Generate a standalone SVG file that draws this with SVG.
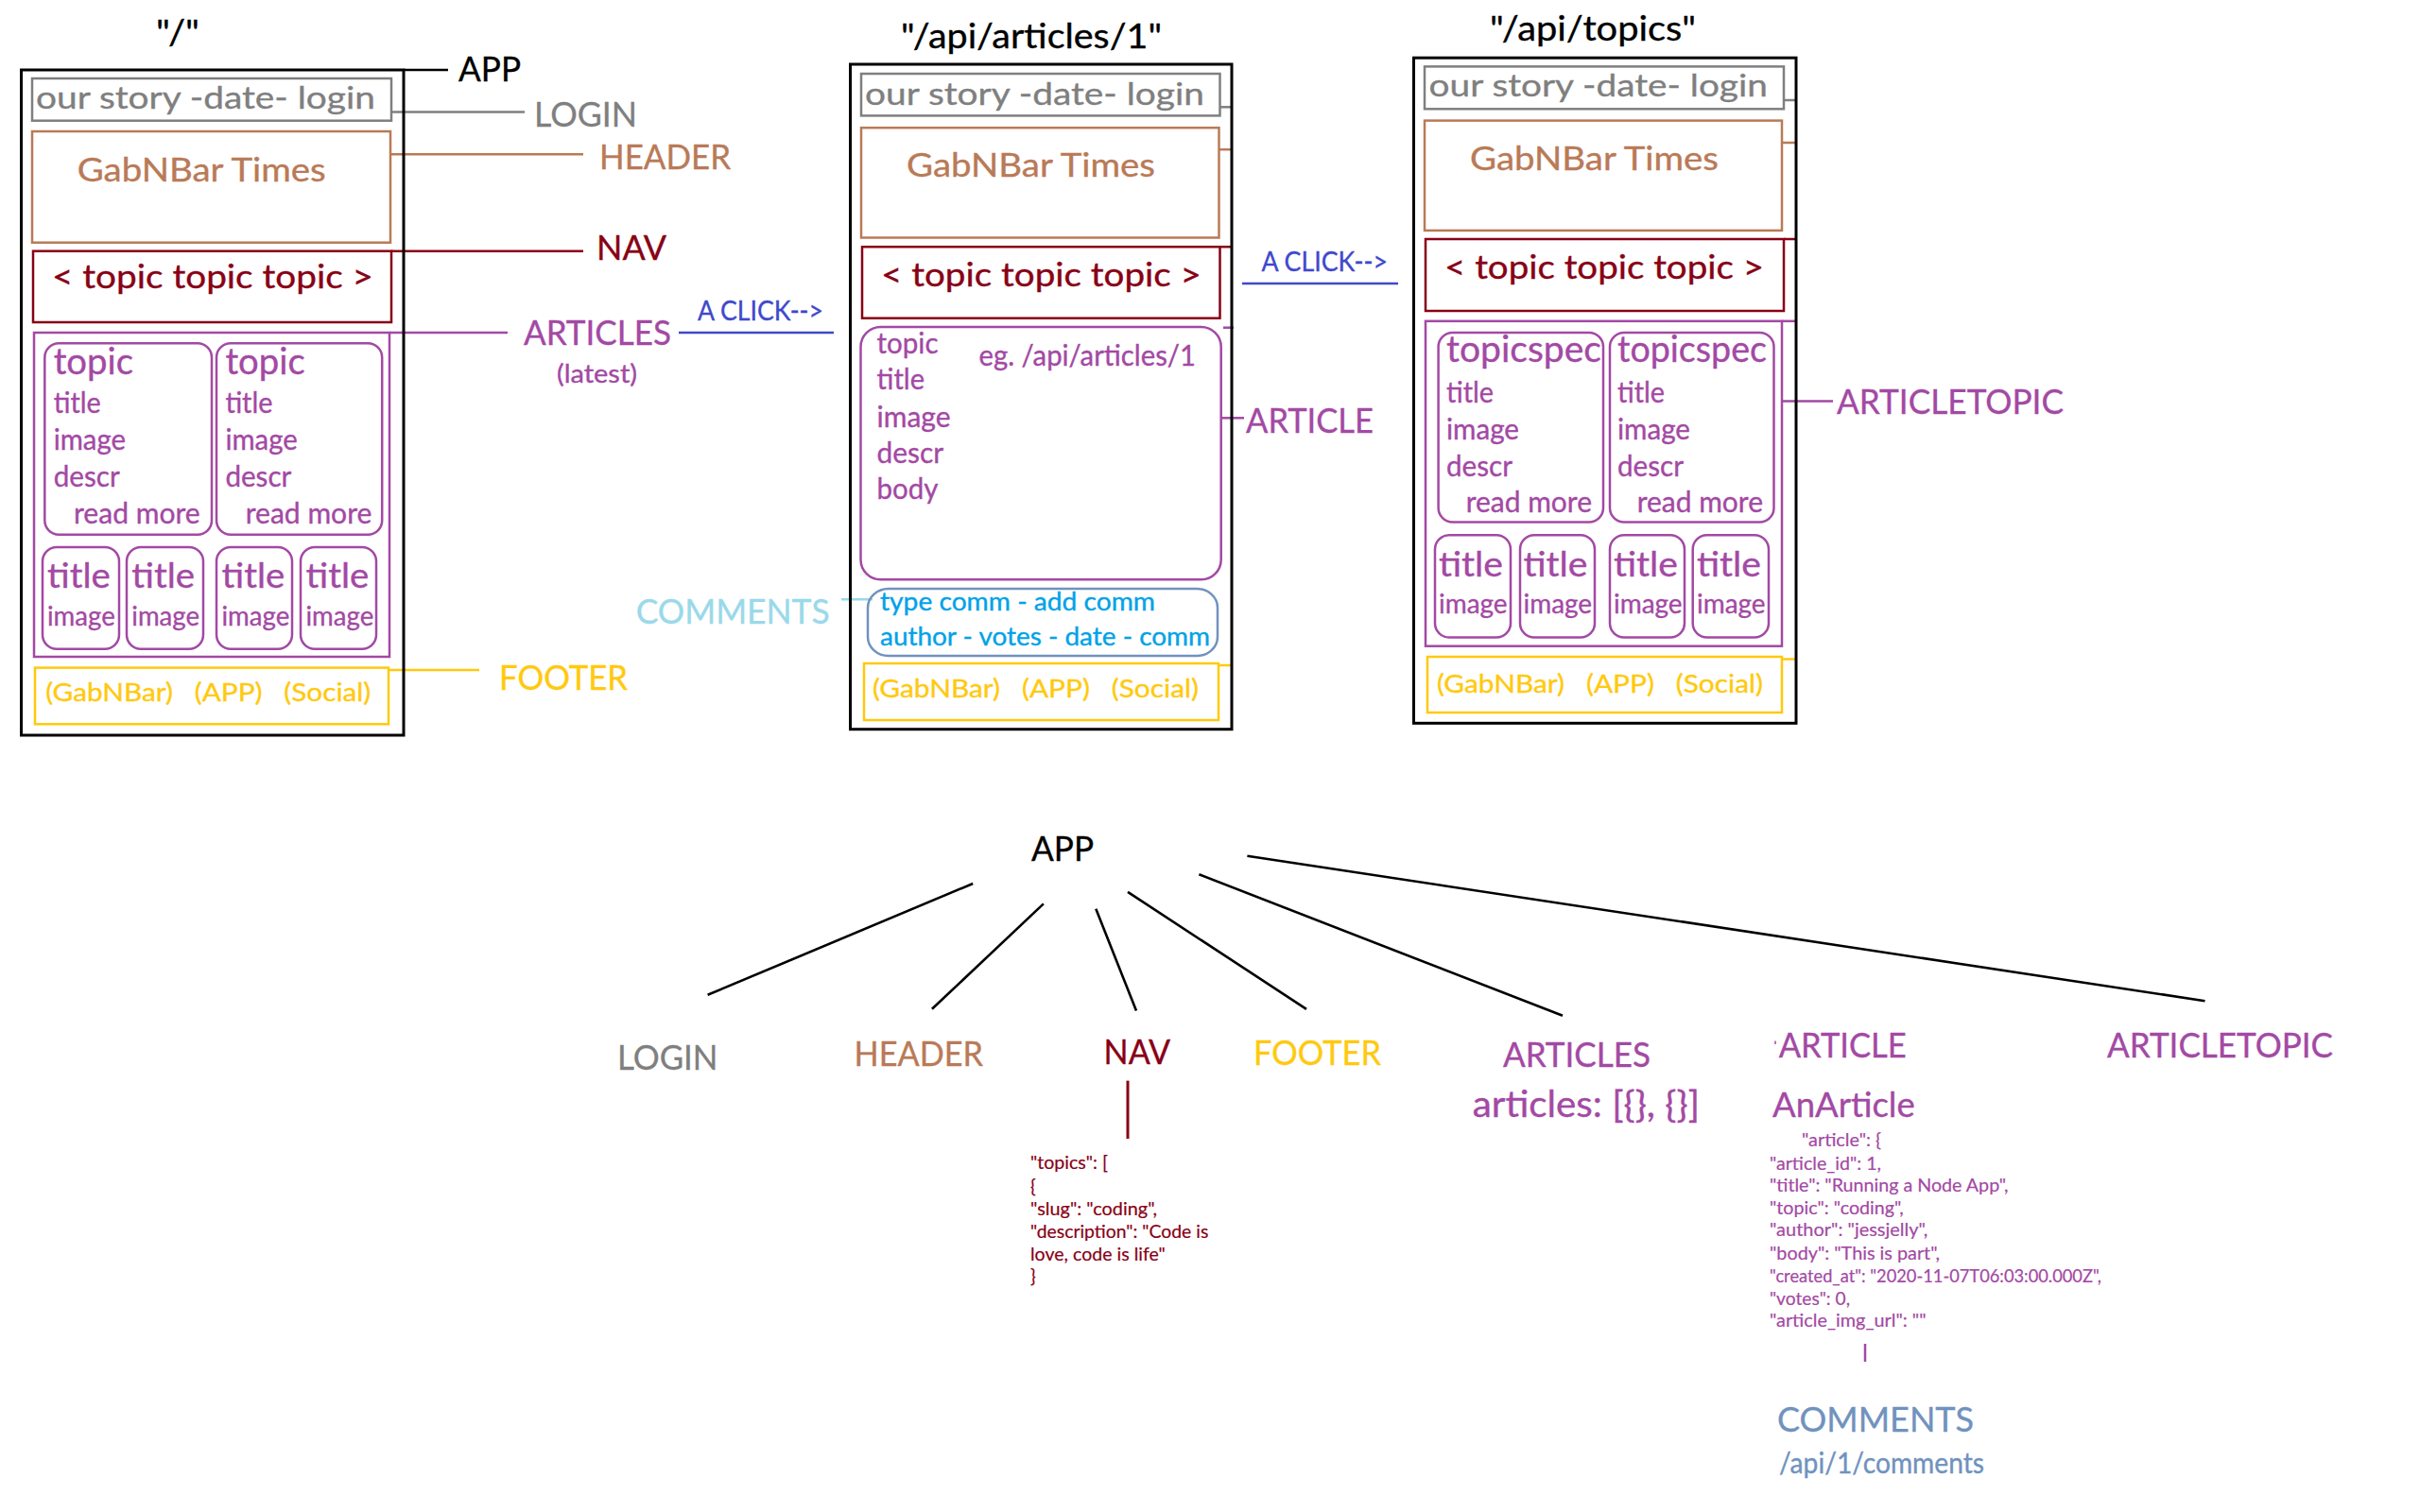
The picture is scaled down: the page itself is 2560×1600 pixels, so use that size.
<svg xmlns="http://www.w3.org/2000/svg" width="2560" height="1600" viewBox="0 0 2560 1600">
<style>
text{font-family:Lato,"Open Sans","Liberation Sans",sans-serif;stroke-width:0.35;}
.k{fill:#000;stroke:#000}.gy{fill:#7F7F7F;stroke:#7F7F7F}.br{fill:#B97A57;stroke:#B97A57}.dr{fill:#880015;stroke:#880015}.pu{fill:#A349A4;stroke:#A349A4}.go{fill:#FFC90E;stroke:#FFC90E}.lb{fill:#99D9EA;stroke:#99D9EA}.bg{fill:#7092BE;stroke:#7092BE}.cy{fill:#00A2E8;stroke:#00A2E8}.in{fill:#3F48CC;stroke:#3F48CC}
.frame{fill:none;stroke:#000;stroke-width:3}
.rgy{fill:none;stroke:#7F7F7F;stroke-width:2.5}
.rbr{fill:none;stroke:#B97A57;stroke-width:2.5}
.rdr{fill:none;stroke:#880015;stroke-width:2.5}
.rpu{fill:none;stroke:#A349A4;stroke-width:2.5}
.rgo{fill:none;stroke:#FFC90E;stroke-width:2.5}
.rbg{fill:none;stroke:#7092BE;stroke-width:2.5}
.lk{stroke:#000;stroke-width:2.6;fill:none}
.lgy{stroke:#7F7F7F;stroke-width:2.5}
.lbr{stroke:#B97A57;stroke-width:2.5}
.ldr{stroke:#880015;stroke-width:2.5}
.lpu{stroke:#A349A4;stroke-width:2.5}
.lgo{stroke:#FFC90E;stroke-width:2.5}
.llb{stroke:#99D9EA;stroke-width:2.5}
.lin{stroke:#3F48CC;stroke-width:2.5}
.lab{font-size:37px}
.ttl{font-size:37px}
.log{font-size:33px}
.gab{font-size:34px}
.nav{font-size:34.5px}
.big{font-size:38px}
.sm{font-size:30px}
.img{font-size:29px}
.ft{font-size:27.5px}
.cm{font-size:26px}
.clk{font-size:29.5px}
.js{font-size:19px;stroke-width:0.2}
</style>

<g id="connectors">
  <line x1="427" y1="74" x2="474" y2="74" class="lk"/>
  <line x1="414" y1="118.4" x2="555" y2="118.4" class="lgy"/>
  <line x1="413" y1="163.3" x2="617" y2="163.3" class="lbr"/>
  <line x1="414" y1="265.7" x2="617" y2="265.7" class="ldr"/>
  <line x1="412" y1="352" x2="537" y2="352" class="lpu"/>
  <line x1="411" y1="709" x2="507" y2="709" class="lgo"/>
  <line x1="718" y1="352" x2="882" y2="352" class="lin"/>
  <line x1="1290.5" y1="113.3" x2="1303" y2="113.3" class="lgy"/>
  <line x1="1289.5" y1="158.2" x2="1303" y2="158.2" class="lbr"/>
  <line x1="1290.5" y1="261.2" x2="1303" y2="261.2" class="ldr"/>
  <line x1="1294" y1="346.7" x2="1305" y2="346.7" class="lpu"/>
  <line x1="1292" y1="442.3" x2="1316" y2="442.3" class="lpu"/>
  <line x1="890" y1="634.3" x2="923" y2="634.3" class="llb"/>
  <line x1="1289" y1="704" x2="1303" y2="704" class="lgo"/>
  <line x1="1314" y1="300" x2="1479" y2="300" class="lin"/>
  <line x1="1887" y1="106" x2="1900" y2="106" class="lgy"/>
  <line x1="1885" y1="151" x2="1900" y2="151" class="lbr"/>
  <line x1="1887" y1="253" x2="1900" y2="253" class="ldr"/>
  <line x1="1885" y1="339.8" x2="1900" y2="339.8" class="lpu"/>
  <line x1="1885" y1="424.5" x2="1939" y2="424.5" class="lpu"/>
  <line x1="1885" y1="697.5" x2="1900" y2="697.5" class="lgo"/>
  <line x1="1029.2" y1="935" x2="748.6" y2="1052.8" class="lk"/>
  <line x1="1103.9" y1="956.4" x2="985.9" y2="1067.8" class="lk"/>
  <line x1="1159.3" y1="961.7" x2="1202" y2="1069.6" class="lk"/>
  <line x1="1193" y1="943.9" x2="1382" y2="1067.8" class="lk"/>
  <line x1="1268.4" y1="925.3" x2="1653" y2="1074.8" class="lk"/>
  <line x1="1319.4" y1="905.7" x2="2332.5" y2="1059.2" class="lk"/>
  <line x1="1193" y1="1143.6" x2="1193" y2="1205" class="ldr" style="stroke-width:3"/>
  <line x1="1973" y1="1422" x2="1973" y2="1441" class="lpu"/>
  <line x1="1878" y1="1101.5" x2="1878" y2="1105" class="lpu" style="stroke-width:1.5"/>
</g>

<g id="page-home">
  <text x="165" y="47" class="ttl k" textLength="46" lengthAdjust="spacingAndGlyphs">"/"</text>
  <rect x="22.5" y="74" width="404.5" height="704" class="frame"/>
  <rect x="34" y="83" width="380" height="44.7" class="rgy"/>
  <text x="38" y="115" class="log gy" textLength="359" lengthAdjust="spacingAndGlyphs">our story -date- login</text>
  <rect x="34" y="139" width="379" height="117.7" class="rbr"/>
  <text x="81.7" y="191.7" class="gab br" textLength="263" lengthAdjust="spacingAndGlyphs">GabNBar Times</text>
  <rect x="35" y="265.7" width="379" height="75.3" class="rdr"/>
  <text x="55" y="305" class="nav dr" textLength="340" lengthAdjust="spacingAndGlyphs">&lt; topic topic topic &gt;</text>
  <rect x="36" y="352" width="376" height="343" class="rpu"/>
  <rect x="47.3" y="363.3" width="176.7" height="202.4" rx="15" class="rpu"/>
  <text x="56.7" y="395.7" class="big pu" textLength="84.3" lengthAdjust="spacingAndGlyphs">topic</text>
  <text x="56.7" y="436.7" class="sm pu" textLength="50" lengthAdjust="spacingAndGlyphs">title</text>
  <text x="56.7" y="476" class="sm pu" textLength="76.3" lengthAdjust="spacingAndGlyphs">image</text>
  <text x="56.7" y="515" class="sm pu" textLength="70" lengthAdjust="spacingAndGlyphs">descr</text>
  <text x="78" y="554" class="sm pu" textLength="133.7" lengthAdjust="spacingAndGlyphs">read more</text>
  <rect x="229" y="363.3" width="175.2" height="202.4" rx="15" class="rpu"/>
  <text x="238.4" y="395.7" class="big pu" textLength="84.3" lengthAdjust="spacingAndGlyphs">topic</text>
  <text x="238.4" y="436.7" class="sm pu" textLength="50" lengthAdjust="spacingAndGlyphs">title</text>
  <text x="238.4" y="476" class="sm pu" textLength="76.3" lengthAdjust="spacingAndGlyphs">image</text>
  <text x="238.4" y="515" class="sm pu" textLength="70" lengthAdjust="spacingAndGlyphs">descr</text>
  <text x="259.7" y="554" class="sm pu" textLength="133.7" lengthAdjust="spacingAndGlyphs">read more</text>
  <rect x="45" y="579" width="81" height="107.7" rx="15" class="rpu"/>
  <rect x="134" y="579" width="81" height="107.7" rx="15" class="rpu"/>
  <rect x="229" y="579" width="80" height="107.7" rx="15" class="rpu"/>
  <rect x="318" y="579" width="80" height="107.7" rx="15" class="rpu"/>
  <text x="50" y="621.7" class="lab pu" textLength="66.7" lengthAdjust="spacingAndGlyphs">title</text>
  <text x="50" y="661.7" class="img pu" textLength="71.7" lengthAdjust="spacingAndGlyphs">image</text>
  <text x="139.3" y="621.7" class="lab pu" textLength="66.7" lengthAdjust="spacingAndGlyphs">title</text>
  <text x="139.3" y="661.7" class="img pu" textLength="71.7" lengthAdjust="spacingAndGlyphs">image</text>
  <text x="234.5" y="621.7" class="lab pu" textLength="66.7" lengthAdjust="spacingAndGlyphs">title</text>
  <text x="234.5" y="661.7" class="img pu" textLength="71.7" lengthAdjust="spacingAndGlyphs">image</text>
  <text x="323.5" y="621.7" class="lab pu" textLength="66.7" lengthAdjust="spacingAndGlyphs">title</text>
  <text x="323.5" y="661.7" class="img pu" textLength="71.7" lengthAdjust="spacingAndGlyphs">image</text>
  <rect x="37" y="706.6" width="374" height="59.7" class="rgo"/>
  <text x="48.3" y="742" class="ft go" textLength="344" lengthAdjust="spacingAndGlyphs" xml:space="preserve">(GabNBar)   (APP)   (Social)</text>
</g>

<g id="labels-home">
  <text x="485" y="85.7" class="lab k" textLength="66" lengthAdjust="spacingAndGlyphs">APP</text>
  <text x="565" y="133.7" class="lab gy" textLength="109" lengthAdjust="spacingAndGlyphs">LOGIN</text>
  <text x="634" y="178.6" class="lab br" textLength="139" lengthAdjust="spacingAndGlyphs">HEADER</text>
  <text x="631" y="274.5" class="lab dr" textLength="74" lengthAdjust="spacingAndGlyphs">NAV</text>
  <text x="554" y="364.8" class="lab pu" textLength="156" lengthAdjust="spacingAndGlyphs">ARTICLES</text>
  <text x="589" y="404.6" class="cm pu" textLength="85" lengthAdjust="spacingAndGlyphs">(latest)</text>
  <text x="528" y="729.6" class="lab go" textLength="136" lengthAdjust="spacingAndGlyphs">FOOTER</text>
  <text x="738" y="339.3" class="clk in" textLength="133" lengthAdjust="spacingAndGlyphs">A CLICK--&gt;</text>
  <text x="672.7" y="660" class="lab lb" textLength="205" lengthAdjust="spacingAndGlyphs">COMMENTS</text>
</g>

<g id="page-article">
  <text x="953" y="51" class="ttl k" textLength="276" lengthAdjust="spacingAndGlyphs">"/api/articles/1"</text>
  <rect x="899.5" y="68" width="403.5" height="703.7" class="frame"/>
  <rect x="911" y="78" width="379.5" height="44.4" class="rgy"/>
  <text x="915" y="110.7" class="log gy" textLength="359" lengthAdjust="spacingAndGlyphs">our story -date- login</text>
  <rect x="911" y="135.2" width="378.5" height="116.3" class="rbr"/>
  <text x="959" y="187.2" class="gab br" textLength="263" lengthAdjust="spacingAndGlyphs">GabNBar Times</text>
  <rect x="912" y="261.2" width="378.5" height="75.5" class="rdr"/>
  <text x="932" y="302.5" class="nav dr" textLength="339" lengthAdjust="spacingAndGlyphs">&lt; topic topic topic &gt;</text>
  <rect x="910.5" y="346" width="381.2" height="267.3" rx="21" class="rpu"/>
  <text x="927.5" y="374" class="sm pu" textLength="65" lengthAdjust="spacingAndGlyphs">topic</text>
  <text x="927.5" y="412.2" class="sm pu" textLength="50.5" lengthAdjust="spacingAndGlyphs">title</text>
  <text x="927.5" y="451.5" class="sm pu" textLength="78" lengthAdjust="spacingAndGlyphs">image</text>
  <text x="927.5" y="489.8" class="sm pu" textLength="70.7" lengthAdjust="spacingAndGlyphs">descr</text>
  <text x="927.5" y="528" class="sm pu" textLength="65" lengthAdjust="spacingAndGlyphs">body</text>
  <text x="1035.5" y="386.7" class="sm pu" textLength="229.5" lengthAdjust="spacingAndGlyphs">eg. /api/articles/1</text>
  <rect x="918" y="623" width="370" height="71" rx="22" ry="20" class="rbg"/>
  <text x="931" y="645.7" class="cm cy" textLength="291" lengthAdjust="spacingAndGlyphs">type comm - add comm</text>
  <text x="931" y="682.7" class="cm cy" textLength="349" lengthAdjust="spacingAndGlyphs">author - votes - date - comm</text>
  <rect x="914" y="702" width="375" height="60" class="rgo"/>
  <text x="923" y="737.5" class="ft go" textLength="345" lengthAdjust="spacingAndGlyphs" xml:space="preserve">(GabNBar)   (APP)   (Social)</text>
</g>

<g id="labels-article">
  <text x="1318" y="458.3" class="lab pu" textLength="135" lengthAdjust="spacingAndGlyphs">ARTICLE</text>
  <text x="1334.5" y="287.2" class="clk in" textLength="133.5" lengthAdjust="spacingAndGlyphs">A CLICK--&gt;</text>
</g>

<g id="page-topics">
  <text x="1576" y="43.4" class="ttl k" textLength="218" lengthAdjust="spacingAndGlyphs">"/api/topics"</text>
  <rect x="1495.5" y="61.2" width="404.5" height="704.1" class="frame"/>
  <rect x="1507" y="70.4" width="380" height="44.9" class="rgy"/>
  <text x="1511.6" y="102" class="log gy" textLength="358.4" lengthAdjust="spacingAndGlyphs">our story -date- login</text>
  <rect x="1507" y="127.6" width="378" height="116.3" class="rbr"/>
  <text x="1555" y="179.6" class="gab br" textLength="263" lengthAdjust="spacingAndGlyphs">GabNBar Times</text>
  <rect x="1508" y="253" width="379" height="76" class="rdr"/>
  <text x="1528" y="295" class="nav dr" textLength="338" lengthAdjust="spacingAndGlyphs">&lt; topic topic topic &gt;</text>
  <rect x="1508" y="339.8" width="377" height="343.9" class="rpu"/>
  <rect x="1521.6" y="352" width="174.4" height="200.5" rx="15" class="rpu"/>
  <text x="1530" y="383" class="big pu" textLength="164" lengthAdjust="spacingAndGlyphs">topicspec</text>
  <text x="1530" y="426" class="sm pu" textLength="50" lengthAdjust="spacingAndGlyphs">title</text>
  <text x="1530" y="465.3" class="sm pu" textLength="77" lengthAdjust="spacingAndGlyphs">image</text>
  <text x="1530" y="504" class="sm pu" textLength="70" lengthAdjust="spacingAndGlyphs">descr</text>
  <text x="1550.7" y="542.3" class="sm pu" textLength="133.3" lengthAdjust="spacingAndGlyphs">read more</text>
  <rect x="1703" y="352" width="173.5" height="200.5" rx="15" class="rpu"/>
  <text x="1711" y="383" class="big pu" textLength="158" lengthAdjust="spacingAndGlyphs">topicspec</text>
  <text x="1711" y="426" class="sm pu" textLength="50" lengthAdjust="spacingAndGlyphs">title</text>
  <text x="1711" y="465.3" class="sm pu" textLength="77" lengthAdjust="spacingAndGlyphs">image</text>
  <text x="1711" y="504" class="sm pu" textLength="70" lengthAdjust="spacingAndGlyphs">descr</text>
  <text x="1731.7" y="542.3" class="sm pu" textLength="133.3" lengthAdjust="spacingAndGlyphs">read more</text>
  <rect x="1518" y="566.3" width="80" height="108.2" rx="15" class="rpu"/>
  <rect x="1608" y="566.3" width="79" height="108.2" rx="15" class="rpu"/>
  <rect x="1703" y="566.3" width="79" height="108.2" rx="15" class="rpu"/>
  <rect x="1790.7" y="566.3" width="80.3" height="108.2" rx="15" class="rpu"/>
  <text x="1522" y="609.7" class="lab pu" textLength="68" lengthAdjust="spacingAndGlyphs">title</text>
  <text x="1522" y="649" class="img pu" textLength="72.6" lengthAdjust="spacingAndGlyphs">image</text>
  <text x="1611.5" y="609.7" class="lab pu" textLength="68" lengthAdjust="spacingAndGlyphs">title</text>
  <text x="1611.5" y="649" class="img pu" textLength="72.6" lengthAdjust="spacingAndGlyphs">image</text>
  <text x="1707" y="609.7" class="lab pu" textLength="68" lengthAdjust="spacingAndGlyphs">title</text>
  <text x="1707" y="649" class="img pu" textLength="72.6" lengthAdjust="spacingAndGlyphs">image</text>
  <text x="1795" y="609.7" class="lab pu" textLength="68" lengthAdjust="spacingAndGlyphs">title</text>
  <text x="1795" y="649" class="img pu" textLength="72.6" lengthAdjust="spacingAndGlyphs">image</text>
  <rect x="1510" y="695" width="375" height="59" class="rgo"/>
  <text x="1520" y="733" class="ft go" textLength="345" lengthAdjust="spacingAndGlyphs" xml:space="preserve">(GabNBar)   (APP)   (Social)</text>
</g>

<g id="labels-topics">
  <text x="1943" y="437.8" class="lab pu" textLength="240" lengthAdjust="spacingAndGlyphs">ARTICLETOPIC</text>
</g>

<g id="tree-app">
  <text x="1091" y="910.7" class="lab k" textLength="66" lengthAdjust="spacingAndGlyphs">APP</text>
</g>
<g id="tree-login">
  <text x="653" y="1132" class="lab gy" textLength="106.5" lengthAdjust="spacingAndGlyphs">LOGIN</text>
</g>
<g id="tree-header">
  <text x="903.6" y="1127.8" class="lab br" textLength="136.4" lengthAdjust="spacingAndGlyphs">HEADER</text>
</g>
<g id="tree-nav">
  <text x="1167.6" y="1126" class="lab dr" textLength="70.4" lengthAdjust="spacingAndGlyphs">NAV</text>
  <text x="1090" y="1237" class="js dr" textLength="82" lengthAdjust="spacingAndGlyphs">"topics": [</text>
  <text x="1090" y="1261.5" class="js dr">{</text>
  <text x="1090" y="1286" class="js dr" textLength="134" lengthAdjust="spacingAndGlyphs">"slug": "coding",</text>
  <text x="1090" y="1310" class="js dr" textLength="188.3" lengthAdjust="spacingAndGlyphs">"description": "Code is</text>
  <text x="1090" y="1333.5" class="js dr" textLength="142.7" lengthAdjust="spacingAndGlyphs">love, code is life"</text>
  <text x="1090" y="1356.5" class="js dr">}</text>
</g>
<g id="tree-footer">
  <text x="1326" y="1127" class="lab go" textLength="135" lengthAdjust="spacingAndGlyphs">FOOTER</text>
</g>
<g id="tree-articles">
  <text x="1590" y="1129" class="lab pu" textLength="156" lengthAdjust="spacingAndGlyphs">ARTICLES</text>
  <text x="1557.7" y="1182.4" class="big pu" textLength="240.3" lengthAdjust="spacingAndGlyphs">articles: [{}, {}]</text>
</g>
<g id="tree-article">
  <text x="1881.7" y="1119" class="lab pu" textLength="135" lengthAdjust="spacingAndGlyphs">ARTICLE</text>
  <text x="1875" y="1181.7" class="lab pu" textLength="150.7" lengthAdjust="spacingAndGlyphs">AnArticle</text>
  <text x="1906" y="1213" class="js pu" textLength="84" lengthAdjust="spacingAndGlyphs">"article": {</text>
  <text x="1872" y="1237.6" class="js pu" textLength="118" lengthAdjust="spacingAndGlyphs">"article_id": 1,</text>
  <text x="1872" y="1261.2" class="js pu" textLength="252.5" lengthAdjust="spacingAndGlyphs">"title": "Running a Node App",</text>
  <text x="1872" y="1284.8" class="js pu" textLength="141.7" lengthAdjust="spacingAndGlyphs">"topic": "coding",</text>
  <text x="1872" y="1308.4" class="js pu" textLength="167.4" lengthAdjust="spacingAndGlyphs">"author": "jessjelly",</text>
  <text x="1872" y="1333" class="js pu" textLength="180" lengthAdjust="spacingAndGlyphs">"body": "This is part",</text>
  <text x="1872" y="1356.5" class="js pu" textLength="351" lengthAdjust="spacingAndGlyphs">"created_at": "2020-11-07T06:03:00.000Z",</text>
  <text x="1872" y="1380.6" class="js pu" textLength="85" lengthAdjust="spacingAndGlyphs">"votes": 0,</text>
  <text x="1872" y="1404.2" class="js pu" textLength="165.5" lengthAdjust="spacingAndGlyphs">"article_img_url": ""</text>
</g>
<g id="tree-comments">
  <text x="1880" y="1515" class="lab bg" textLength="208" lengthAdjust="spacingAndGlyphs">COMMENTS</text>
  <text x="1882" y="1558.6" class="sm bg" textLength="217" lengthAdjust="spacingAndGlyphs">/api/1/comments</text>
</g>
<g id="tree-articletopic">
  <text x="2229" y="1118.7" class="lab pu" textLength="239" lengthAdjust="spacingAndGlyphs">ARTICLETOPIC</text>
</g>
</svg>
